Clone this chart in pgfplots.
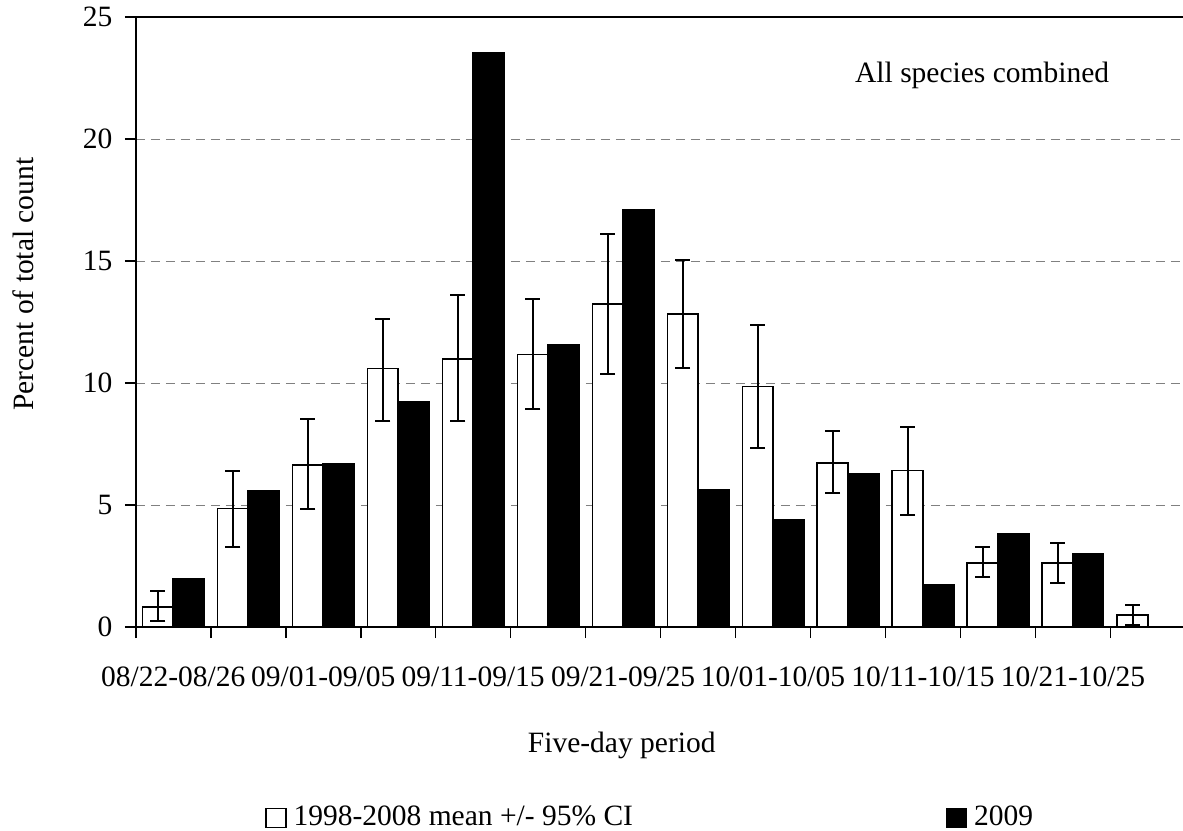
\documentclass[border=0pt]{standalone}
\usepackage{fontspec}
\setmainfont{Liberation Serif}
\usepackage{pgfplots}
\usepackage{pgfplotstable}
\pgfplotsset{compat=1.18}
\pgfplotstableread{
x mean ep em
0 0.82 0.66 0.57
1 4.85 1.56 1.56
2 6.65 1.88 1.80
3 10.59 2.05 2.14
4 10.98 2.62 2.52
5 11.17 2.29 2.22
6 13.24 2.85 2.89
7 12.82 2.23 2.22
8 9.85 2.53 2.53
9 6.73 1.32 1.23
10 6.41 1.80 1.82
11 2.63 0.64 0.59
12 2.63 0.81 0.84
13 0.49 0.40 0.42
}\meantable
\pgfplotstableread{
x val
0 1.99
1 5.60
2 6.67
3 9.21
4 23.55
5 11.58
6 17.10
7 5.62
8 4.38
9 6.26
10 1.75
11 3.81
12 2.99
}\ninetable
\begin{document}
\fontsize{14.75pt}{17pt}\selectfont
\begin{tikzpicture}
\begin{axis}[
  at={(0,0)}, anchor=south west,
  scale only axis, width=524.8pt, height=305pt,
  xmin=-0.5, xmax=13.5, ymin=0, ymax=25,
  axis x line=box, axis y line=left,
  axis line style={-, line width=1pt, black},
  xtick pos=bottom, ytick pos=left,
  tick align=outside, major tick length=5.5pt,
  tick style={black, line width=0.8pt},
  xtick={-0.5,0.5,...,13.5},
  xticklabels={08/22-08/26,,09/01-09/05,,09/11-09/15,,09/21-09/25,,10/01-10/05,,10/11-10/15,,10/21-10/25,,},
  xticklabel style={anchor=base, inner sep=0pt, xshift=18.74pt, yshift=-24pt},
  ytick={0,5,...,25},
  yticklabel style={anchor=east, inner sep=0pt, xshift=-6pt},
  /pgf/number format/assume math mode=true,
  ymajorgrids,
  grid style={gray, line width=0.5pt, dash pattern=on 4.5pt off 3pt},
  every axis y label/.style={at={(axis description cs:0,0.562)}, xshift=-56.4pt, rotate=90, anchor=center},
  ylabel={Percent of total count},
  every axis x label/.style={at={(axis description cs:0.463,0)}, yshift=-59pt, anchor=center},
  xlabel={Five-day period},
  legend style={draw=none, fill=none, legend columns=2,
    at={(axis description cs:0,0)}, anchor=west, xshift=64.6pt, yshift=-95.5pt,
    inner sep=0pt, nodes={inner sep=0pt},
    /tikz/every odd column/.append style={column sep=3.5pt},
    /tikz/every even column/.append style={column sep=156.5pt}},
  legend cell align=left,
  clip=false,
]
\addlegendimage{legend image code/.code={\draw[draw=black,fill=white,line width=0.6pt] (0pt,-4.8pt) rectangle (10pt,4.8pt);}}
\addlegendentry{1998-2008 mean +/- 95\% CI}
\addlegendimage{legend image code/.code={\draw[draw=black,fill=black,line width=0.6pt] (0pt,-4.8pt) rectangle (10pt,4.8pt);}}
\addlegendentry{2009}
\addplot[ybar, bar width=0.41, bar shift=-0.205, draw=black, fill=white, line width=0.8pt, forget plot]
  table[x=x, y=mean] {\meantable};
\addplot[ybar, bar width=0.41, bar shift=0.205, draw=black, fill=black, line width=0.8pt, forget plot]
  table[x=x, y=val] {\ninetable};
\addplot[draw=none, mark=none, forget plot,
  error bars/.cd, y dir=both, y explicit,
  error mark=-,
  error bar style={line width=1pt, black, solid},
  error mark options={rotate=90, line width=1pt, black, mark size=3.75pt}]
  table[x expr=\thisrow{x}-0.205, y=mean, y error plus=ep, y error minus=em] {\meantable};
\node[anchor=base west, inner sep=0pt] at (axis cs:9.09,22.3) {All species combined};
\end{axis}
\pgfresetboundingbox
\useasboundingbox (-67.9pt,-101.5pt) rectangle (523.6pt,313.5pt);
\end{tikzpicture}
\end{document}
